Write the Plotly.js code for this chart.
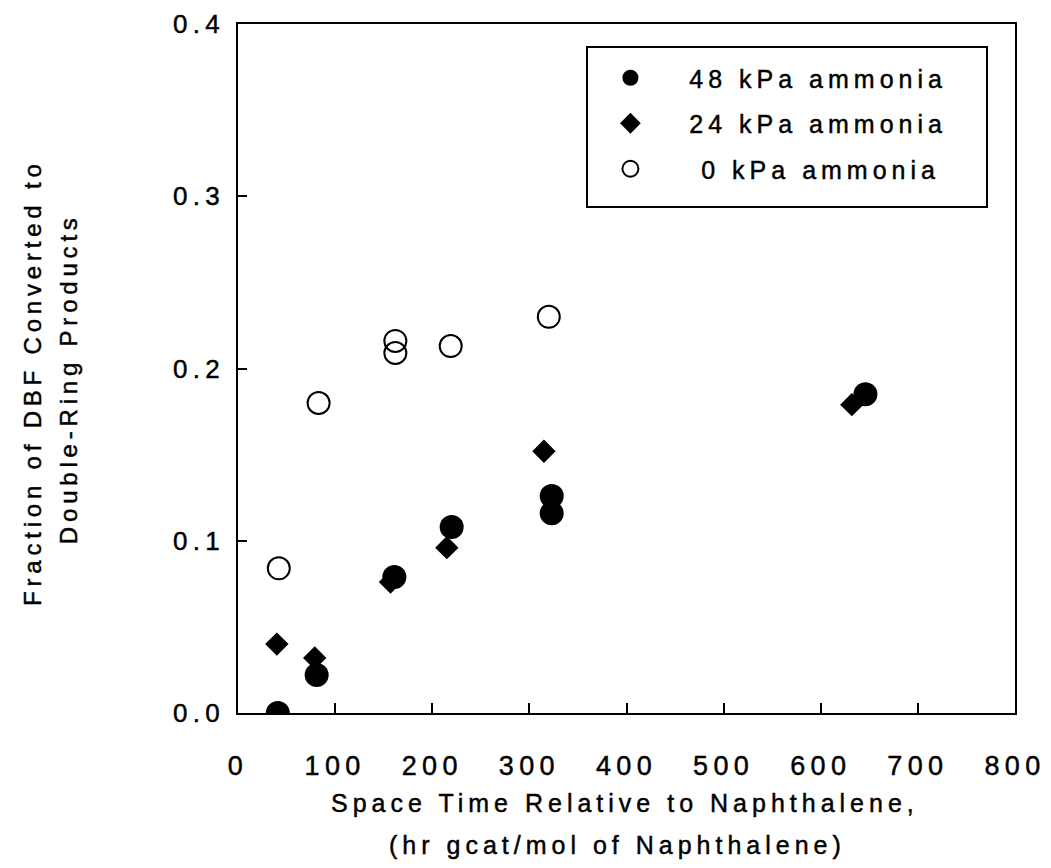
<!DOCTYPE html>
<html>
<head>
<meta charset="utf-8">
<script src="https://cdn.plot.ly/plotly-3.0.1.min.js"></script>
<style>
  html, body { margin: 0; padding: 0; background: #fff; }
  #chart { width: 1051px; height: 868px; }
  svg text { letter-spacing: 0.2em; stroke: #000; stroke-width: 0.45px; }
</style>
</head>
<body>
<div id="chart"></div>
<script>
// Space time (hr gcat/mol naphthalene) and fraction converted to double-ring products
const x48 = [41, 81, 161, 220, 323, 323, 646];
const y48 = [0.000, 0.022, 0.079, 0.108, 0.126, 0.116, 0.185];

const x24 = [40, 79, 157, 215, 315, 632];
const y24 = [0.040, 0.032, 0.076, 0.096, 0.152, 0.179];

const x0 = [42, 83, 162, 162, 219, 320];
const y0 = [0.084, 0.180, 0.216, 0.209, 0.213, 0.230];

const seriesNames = ['\u00a0\u00a048 kPa ammonia', '\u00a0\u00a024 kPa ammonia', '\u00a0\u00a0\u00a00 kPa ammonia'];
const xTicks = [0, 100, 200, 300, 400, 500, 600, 700, 800];
const yTicks = [0.0, 0.1, 0.2, 0.3, 0.4];

const FONT = 'Liberation Sans, Arial, Helvetica, sans-serif';

const traces = [
  {
    x: x24, y: y24, name: seriesNames[1], type: 'scatter', mode: 'markers',
    legendgroup: 'g24', legendrank: 2,
    marker: { symbol: 'diamond', size: 18, color: '#000', line: { width: 0 } }
  },
  {
    x: x48, y: y48, name: seriesNames[0], type: 'scatter', mode: 'markers',
    legendgroup: 'g48', legendrank: 1,
    marker: { symbol: 'circle', size: 24, color: '#000', line: { width: 0 } }
  },
  {
    x: x0, y: y0, name: seriesNames[2], type: 'scatter', mode: 'markers',
    legendgroup: 'g0', legendrank: 3,
    marker: { symbol: 'circle-open', size: 22, color: '#000', line: { width: 2, color: '#000' } }
  }
];

const layout = {
  width: 1051, height: 868,
  paper_bgcolor: '#fff', plot_bgcolor: '#fff',
  margin: { l: 238, r: 36, t: 24, b: 155 },
  font: { family: FONT, color: '#000', size: 24 },
  showlegend: true,
  legend: {
    x: 0.46, y: 0.955, xanchor: 'left', yanchor: 'top',
    bgcolor: 'rgba(0,0,0,0)', borderwidth: 0,
    traceorder: 'grouped', tracegroupgap: 10,
    itemwidth: 60,
    font: { family: FONT, size: 25, color: '#000' }
  },
  xaxis: {
    range: [0, 800], tickvals: xTicks, ticktext: xTicks.map(String),
    ticks: 'inside', ticklen: 10, tickwidth: 2, tickcolor: '#000',
    showline: true, linewidth: 2, linecolor: '#000', mirror: true,
    showgrid: false, zeroline: false,
    ticklabelstandoff: 28,
    tickfont: { family: FONT, size: 27, color: '#000' }
  },
  yaxis: {
    range: [0, 0.4], tickvals: yTicks, ticktext: yTicks.map(v => v.toFixed(1)),
    ticks: 'inside', ticklen: 9, tickwidth: 2, tickcolor: '#000',
    showline: true, linewidth: 2, linecolor: '#000', mirror: true,
    showgrid: false, zeroline: false,
    ticklabelstandoff: 6,
    tickfont: { family: FONT, size: 26, color: '#000' }
  },
  shapes: [
    { type: 'rect', xref: 'paper', yref: 'paper',
      x0: (587 - 238) / 777, x1: (987 - 238) / 777,
      y0: (713 - 207) / 689, y1: (713 - 47) / 689,
      line: { color: '#000', width: 2 }, fillcolor: 'rgba(0,0,0,0)' }
  ],
  annotations: [
    { text: 'Space Time Relative to Naphthalene,', xref: 'paper', yref: 'paper',
      x: 0.498, y: -0.1306, xanchor: 'center', yanchor: 'middle', showarrow: false,
      font: { family: FONT, size: 25, color: '#000' } },
    { text: '(hr gcat/mol of Naphthalene)', xref: 'paper', yref: 'paper',
      x: 0.488, y: -0.1916, xanchor: 'center', yanchor: 'middle', showarrow: false,
      font: { family: FONT, size: 25, color: '#000' } },
    { text: 'Fraction of DBF Converted to', xref: 'paper', yref: 'paper',
      x: -0.2638, y: 0.479, xanchor: 'center', yanchor: 'middle', textangle: -90, showarrow: false,
      font: { family: FONT, size: 24, color: '#000' } },
    { text: 'Double-Ring Products', xref: 'paper', yref: 'paper',
      x: -0.2188, y: 0.486, xanchor: 'center', yanchor: 'middle', textangle: -90, showarrow: false,
      font: { family: FONT, size: 24, color: '#000' } }
  ]
};

Plotly.newPlot('chart', traces, layout, { displayModeBar: false, staticPlot: true });
</script>
</body>
</html>
